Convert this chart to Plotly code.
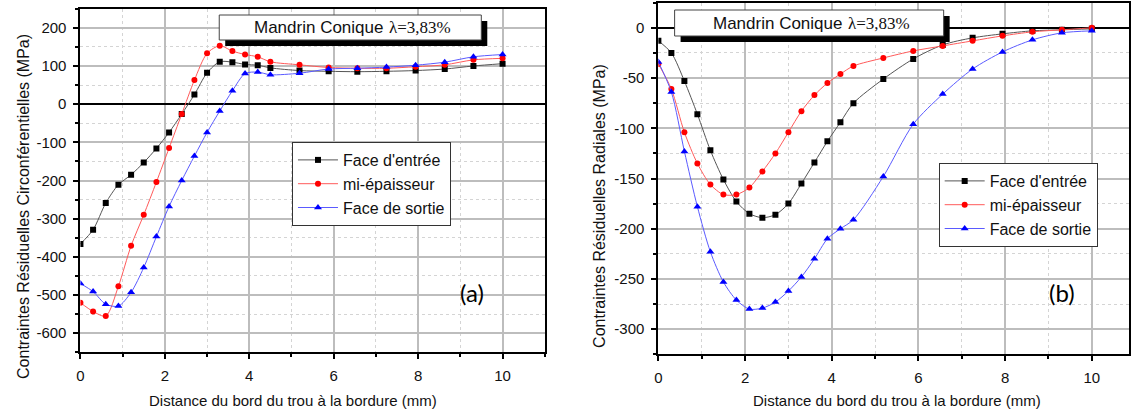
import plotly.graph_objects as go

# Measurement positions (mm from the hole edge)
distance = [0.0, 0.3, 0.6, 0.9, 1.2, 1.5, 1.8, 2.1, 2.4, 2.7, 3.0, 3.3, 3.6, 3.9, 4.2, 4.5,
            5.19, 5.88, 6.56, 7.25, 7.94, 8.63, 9.31, 10.0]

# (a) Circumferential residual stresses (MPa)
circ_entree = [-366, -329, -259, -211, -185, -153, -116, -74, -26, 25, 82, 111, 110, 104, 102, 95,
               88, 86, 85, 86, 88, 92, 100, 106]
circ_mi = [-520, -543, -555, -477, -371, -290, -204, -115, -26, 63, 133, 153, 139, 130, 124, 111,
           103, 96, 94, 94, 98, 103, 116, 120]
circ_sortie = [-470, -491, -524, -529, -493, -428, -347, -268, -200, -136, -74, -18, 35, 80, 84, 77,
               81, 92, 94, 97, 102, 110, 124, 130]

# (b) Radial residual stresses (MPa)
rad_entree = [-13, -25, -53, -86, -122, -151, -173, -185, -189, -186, -175, -155, -134, -113, -94, -75,
              -51, -31, -17, -10, -6, -3, -2, -1]
rad_mi = [-36, -61, -104, -135, -156, -166, -166, -159, -143, -125, -104, -83, -67, -55, -46, -38,
          -30, -23, -18, -13, -8, -4, -2, 0]
rad_sortie = [-34, -64, -123, -178, -223, -253, -271, -280, -279, -273, -262, -248, -230, -210, -200, -191,
              -148, -96, -66, -41, -24, -12, -5, -3]

series_names = ["Face d'entrée", "mi-épaisseur", "Face de sortie"]
title_main = "Mandrin Conique"
title_param = "λ=3,83%"
x_title = "Distance du bord du trou à la bordure (mm)"
y_title_a = "Contraintes Résiduelles Circonférentielles (MPa)"
y_title_b = "Contraintes Résiduelles Radiales (MPa)"

x_ticks = [0, 2, 4, 6, 8, 10]
y_ticks_a = [-600, -500, -400, -300, -200, -100, 0, 100, 200]
y_ticks_b = [-300, -250, -200, -150, -100, -50, 0]

W, H = 1131, 414
SANS = "Liberation Sans"


def px(x):
    return x / W


def py(y):
    return 1 - y / H


def labels(vals):
    # plain hyphen for negative values
    return [str(v) for v in vals]


styles = [
    dict(marker=dict(symbol="square", size=6, color="#000000"), line=dict(color="#555555", width=1)),
    dict(marker=dict(symbol="circle", size=6, color="#ff0000"), line=dict(color="#ff5a5a", width=1)),
    dict(marker=dict(symbol="triangle-up", size=7, color="#0000ff"), line=dict(color="#5a5aff", width=1)),
]

fig = go.Figure()

for vals, name, st in zip([circ_entree, circ_mi, circ_sortie], series_names, styles):
    fig.add_trace(go.Scatter(
        x=distance, y=vals, name=name, mode="lines+markers",
        line=dict(shape="spline", smoothing=0.8, **st["line"]), marker=st["marker"],
        xaxis="x", yaxis="y", legend="legend",
    ))

for vals, name, st in zip([rad_entree, rad_mi, rad_sortie], series_names, styles):
    fig.add_trace(go.Scatter(
        x=distance, y=vals, name=name, mode="lines+markers",
        line=dict(shape="spline", smoothing=0.8, **st["line"]), marker=st["marker"],
        xaxis="x2", yaxis="y2", legend="legend2",
    ))

tick_font = dict(family=SANS, size=15, color="#111111")
axis_common = dict(
    showline=True, linecolor="#000000", linewidth=2, mirror=True,
    ticks="outside", ticklen=5, tickwidth=1.5, tickcolor="#000000",
    showgrid=True, gridcolor="#bdbdbd", gridwidth=1.5,
    tickfont=tick_font, fixedrange=True, ticklabelstandoff=4,
)
minor_common = dict(ticks="outside", ticklen=3, tickcolor="#000000",
                    showgrid=True, gridcolor="#d4d4d4", griddash="dot", gridwidth=1)

fig.update_layout(
    width=W, height=H,
    margin=dict(l=0, r=0, t=0, b=0),
    paper_bgcolor="white", plot_bgcolor="white",
    xaxis=dict(domain=[px(76.7), px(542.7)], range=[0, 11],
               tickmode="array", tickvals=x_ticks, ticktext=labels(x_ticks),
               minor=dict(dtick=1, tick0=0, **minor_common), zeroline=False, anchor="y", **axis_common),
    yaxis=dict(domain=[py(352.3), py(8.7)], range=[-650, 250],
               tickmode="array", tickvals=y_ticks_a, ticktext=labels(y_ticks_a),
               minor=dict(dtick=50, tick0=0, **minor_common), zeroline=True, zerolinecolor="#000000",
               zerolinewidth=2, anchor="x", **axis_common),
    xaxis2=dict(domain=[px(656.7), px(1129.3)], range=[0, 10.865],
                tickmode="array", tickvals=x_ticks, ticktext=labels(x_ticks),
                minor=dict(dtick=1, tick0=0, **minor_common), zeroline=False, anchor="y2", **axis_common),
    yaxis2=dict(domain=[py(354.3), py(2.7)], range=[-325, 25],
                tickmode="array", tickvals=y_ticks_b, ticktext=labels(y_ticks_b),
                minor=dict(dtick=25, tick0=0, **minor_common), zeroline=True, zerolinecolor="#000000",
                zerolinewidth=2, anchor="x2", **axis_common),
    legend=dict(x=px(289), y=py(142), xanchor="left", yanchor="top",
                bgcolor="white", bordercolor="#333333", borderwidth=1,
                font=dict(family=SANS, size=16, color="#111111"),
                itemwidth=40, tracegroupgap=0),
    legend2=dict(x=px(938), y=py(163), xanchor="left", yanchor="top",
                 bgcolor="white", bordercolor="#333333", borderwidth=1,
                 font=dict(family=SANS, size=16, color="#111111"),
                 itemwidth=40, tracegroupgap=0),
    showlegend=True,
)

# Title boxes with drop shadow
shapes = []
annotations = []
for (x0, y0, x1, y1, split) in [(216, 15, 479, 40, 382), (673, 10, 943, 36, 843)]:
    shapes.append(dict(type="rect", xref="paper", yref="paper",
                       x0=px(x0 + 6), x1=px(x1 + 6), y0=py(y1 + 6), y1=py(y0 + 6),
                       fillcolor="#000000", line=dict(width=0), layer="above"))
    shapes.append(dict(type="rect", xref="paper", yref="paper",
                       x0=px(x0), x1=px(x1), y0=py(y1), y1=py(y0),
                       fillcolor="white", line=dict(color="#444444", width=1), layer="above"))
    annotations.append(dict(
        xref="paper", yref="paper", x=px(split), y=py((y0 + y1) / 2),
        xanchor="right", yanchor="middle", showarrow=False, text=title_main,
        font=dict(family=SANS, size=17, color="#111111"),
    ))
    annotations.append(dict(
        xref="paper", yref="paper", x=px(split + 2), y=py((y0 + y1) / 2),
        xanchor="left", yanchor="middle", showarrow=False, text=title_param,
        font=dict(family="Liberation Serif", size=17, color="#111111"),
    ))

# Axis titles
for cx, text in [(290, x_title), (896, x_title)]:
    annotations.append(dict(xref="paper", yref="paper", x=px(cx), y=py(400),
                            xanchor="center", yanchor="middle", showarrow=False, text=text,
                            font=dict(family=SANS, size=15, color="#111111")))
for cx, cy, text in [(19, 206, y_title_a), (597, 206, y_title_b)]:
    annotations.append(dict(xref="paper", yref="paper", x=px(cx), y=py(cy),
                            xanchor="center", yanchor="middle", showarrow=False, text=text,
                            textangle=-90,
                            font=dict(family=SANS, size=16, color="#111111")))

# Panel labels
for cx, cy, text in [(470, 292, "(a)"), (1062, 292, "(b)")]:
    annotations.append(dict(xref="paper", yref="paper", x=px(cx), y=py(cy),
                            xanchor="center", yanchor="middle", showarrow=False, text=text,
                            font=dict(family="Lato", size=24, color="#000000")))

fig.update_layout(shapes=shapes, annotations=annotations)

fig.write_html("out.html")
